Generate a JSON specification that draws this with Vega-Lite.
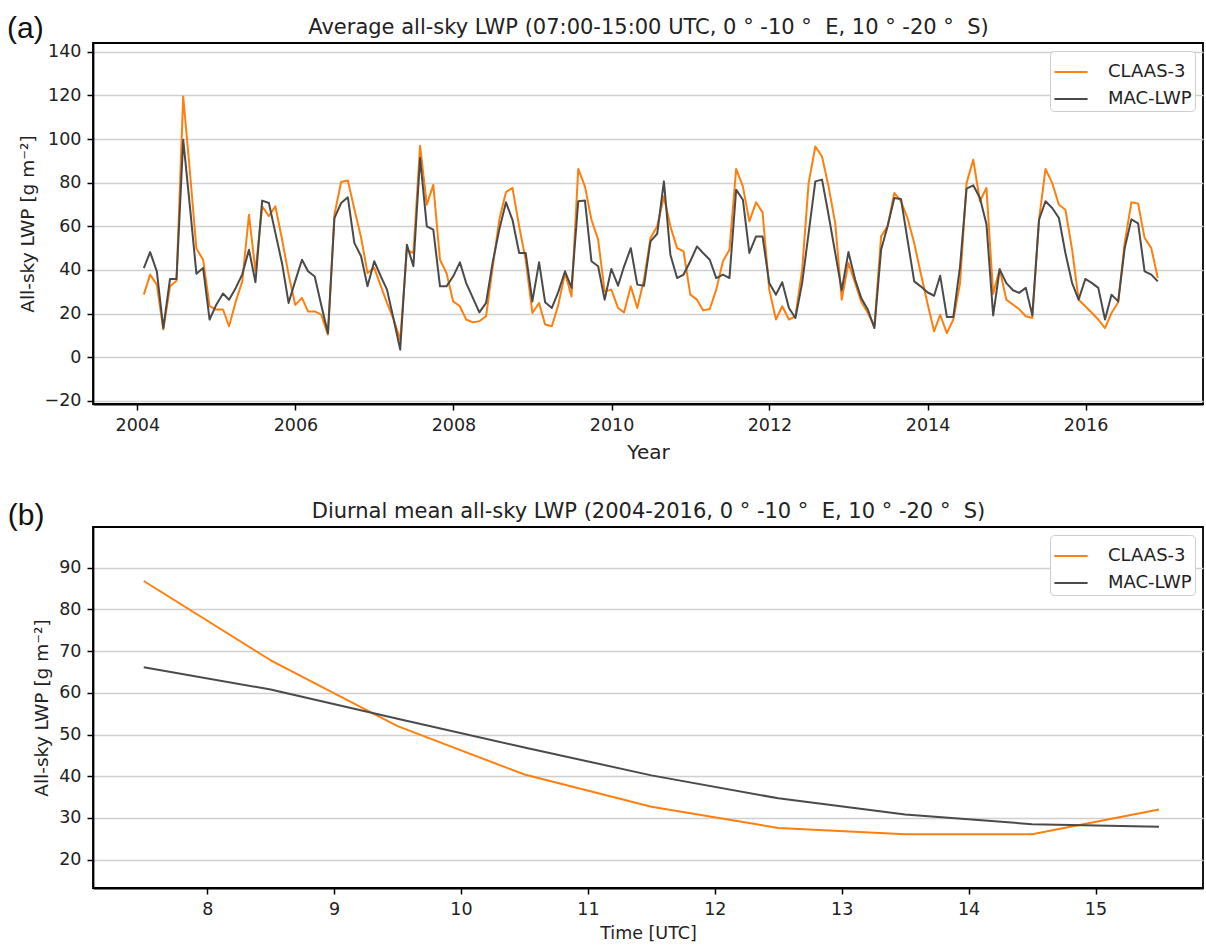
{
  "$schema": "https://vega.github.io/schema/vega-lite/v6.json",
  "background": "white",
  "padding": {"left": 6, "top": 13, "right": 0, "bottom": 0},
  "autosize": {"type": "pad"},
  "spacing": 35,
  "resolve": {"scale": {"color": "independent"}},
  "config": {
    "font": "DejaVu Sans",
    "view": {"stroke": "#000000", "strokeWidth": 1.8},
    "axis": {
      "labelFont": "DejaVu Sans", "labelFontSize": 17.5, "labelColor": "#222222",
      "titleFont": "DejaVu Sans", "titleFontWeight": "normal", "titleColor": "#222222",
      "tickColor": "#000000", "tickWidth": 1.5, "tickSize": 6, "labelPadding": 6,
      "domainColor": "#000000", "domainWidth": 1.8,
      "gridColor": "#d0d0d0", "gridWidth": 1.6
    },
    "axisX": {"grid": false},
    "axisY": {"grid": true},
    "legend": {
      "labelFont": "DejaVu Sans", "labelFontSize": 18, "labelColor": "#222222",
      "symbolType": "stroke", "symbolStrokeWidth": 2, "symbolSize": 1100,
      "padding": 3, "strokeColor": "#cccccc", "fillColor": "#ffffff", "cornerRadius": 4,
      "rowPadding": -1, "labelOffset": 19, "orient": "top-right", "offset": 8
    },
    "title": {"font": "Liberation Sans", "fontWeight": "normal", "color": "#111111"}
  },
  "datasets": {
    "monthly": [
      {"date": "2004-01-31", "CLAAS-3": 28.7, "MAC-LWP": 40.9},
      {"date": "2004-02-29", "CLAAS-3": 37.9, "MAC-LWP": 48.2},
      {"date": "2004-03-31", "CLAAS-3": 33.3, "MAC-LWP": 39.4},
      {"date": "2004-04-30", "CLAAS-3": 12.7, "MAC-LWP": 13.4},
      {"date": "2004-05-31", "CLAAS-3": 32.5, "MAC-LWP": 35.9},
      {"date": "2004-06-30", "CLAAS-3": 35.1, "MAC-LWP": 35.9},
      {"date": "2004-07-31", "CLAAS-3": 119.5, "MAC-LWP": 99.7},
      {"date": "2004-08-31", "CLAAS-3": 85, "MAC-LWP": 69},
      {"date": "2004-09-30", "CLAAS-3": 49.8, "MAC-LWP": 38.3},
      {"date": "2004-10-31", "CLAAS-3": 44.7, "MAC-LWP": 40.9},
      {"date": "2004-11-30", "CLAAS-3": 23.4, "MAC-LWP": 17.3},
      {"date": "2004-12-31", "CLAAS-3": 21.9, "MAC-LWP": 24.1},
      {"date": "2005-01-31", "CLAAS-3": 21.9, "MAC-LWP": 29.2},
      {"date": "2005-02-28", "CLAAS-3": 14.2, "MAC-LWP": 26.4},
      {"date": "2005-03-31", "CLAAS-3": 25.6, "MAC-LWP": 31.8},
      {"date": "2005-04-30", "CLAAS-3": 34.8, "MAC-LWP": 38},
      {"date": "2005-05-31", "CLAAS-3": 65.3, "MAC-LWP": 49.3},
      {"date": "2005-06-30", "CLAAS-3": 39.4, "MAC-LWP": 34.4},
      {"date": "2005-07-31", "CLAAS-3": 69.2, "MAC-LWP": 71.8},
      {"date": "2005-08-31", "CLAAS-3": 64.6, "MAC-LWP": 70.7},
      {"date": "2005-09-30", "CLAAS-3": 69.2, "MAC-LWP": 57},
      {"date": "2005-10-31", "CLAAS-3": 54, "MAC-LWP": 43},
      {"date": "2005-11-30", "CLAAS-3": 38, "MAC-LWP": 24.9},
      {"date": "2005-12-31", "CLAAS-3": 24, "MAC-LWP": 35},
      {"date": "2006-01-31", "CLAAS-3": 27.2, "MAC-LWP": 44.7},
      {"date": "2006-02-28", "CLAAS-3": 21, "MAC-LWP": 39.4},
      {"date": "2006-03-31", "CLAAS-3": 21, "MAC-LWP": 37},
      {"date": "2006-04-30", "CLAAS-3": 19.5, "MAC-LWP": 24},
      {"date": "2006-05-31", "CLAAS-3": 10.4, "MAC-LWP": 11},
      {"date": "2006-06-30", "CLAAS-3": 65.3, "MAC-LWP": 63.8},
      {"date": "2006-07-31", "CLAAS-3": 80.3, "MAC-LWP": 70.7},
      {"date": "2006-08-31", "CLAAS-3": 81, "MAC-LWP": 73.3},
      {"date": "2006-09-30", "CLAAS-3": 68, "MAC-LWP": 52.4},
      {"date": "2006-10-31", "CLAAS-3": 55, "MAC-LWP": 46.3},
      {"date": "2006-11-30", "CLAAS-3": 38.6, "MAC-LWP": 32.5},
      {"date": "2006-12-31", "CLAAS-3": 41, "MAC-LWP": 44},
      {"date": "2007-01-31", "CLAAS-3": 32.5, "MAC-LWP": 37},
      {"date": "2007-02-28", "CLAAS-3": 24.9, "MAC-LWP": 31},
      {"date": "2007-03-31", "CLAAS-3": 17.3, "MAC-LWP": 17.3},
      {"date": "2007-04-30", "CLAAS-3": 8, "MAC-LWP": 3.5},
      {"date": "2007-05-31", "CLAAS-3": 49, "MAC-LWP": 51.6},
      {"date": "2007-06-30", "CLAAS-3": 47.8, "MAC-LWP": 41.7},
      {"date": "2007-07-31", "CLAAS-3": 96.9, "MAC-LWP": 91.3},
      {"date": "2007-08-31", "CLAAS-3": 69.9, "MAC-LWP": 60},
      {"date": "2007-09-30", "CLAAS-3": 79, "MAC-LWP": 58.5},
      {"date": "2007-10-31", "CLAAS-3": 44.7, "MAC-LWP": 32.5},
      {"date": "2007-11-30", "CLAAS-3": 38.6, "MAC-LWP": 32.5},
      {"date": "2007-12-31", "CLAAS-3": 25.6, "MAC-LWP": 37.1},
      {"date": "2008-01-31", "CLAAS-3": 23.4, "MAC-LWP": 43.5},
      {"date": "2008-02-29", "CLAAS-3": 17.3, "MAC-LWP": 34},
      {"date": "2008-03-31", "CLAAS-3": 16, "MAC-LWP": 27.2},
      {"date": "2008-04-30", "CLAAS-3": 16.5, "MAC-LWP": 20.6},
      {"date": "2008-05-31", "CLAAS-3": 18.8, "MAC-LWP": 24.9},
      {"date": "2008-06-30", "CLAAS-3": 41, "MAC-LWP": 43.2},
      {"date": "2008-07-31", "CLAAS-3": 63, "MAC-LWP": 58.5},
      {"date": "2008-08-31", "CLAAS-3": 75.7, "MAC-LWP": 71},
      {"date": "2008-09-30", "CLAAS-3": 77.6, "MAC-LWP": 63},
      {"date": "2008-10-31", "CLAAS-3": 60, "MAC-LWP": 47.8},
      {"date": "2008-11-30", "CLAAS-3": 44.7, "MAC-LWP": 47.8},
      {"date": "2008-12-31", "CLAAS-3": 20.3, "MAC-LWP": 25.6},
      {"date": "2009-01-31", "CLAAS-3": 24.9, "MAC-LWP": 43.5},
      {"date": "2009-02-28", "CLAAS-3": 15, "MAC-LWP": 25.2},
      {"date": "2009-03-31", "CLAAS-3": 14.2, "MAC-LWP": 22.6},
      {"date": "2009-04-30", "CLAAS-3": 24, "MAC-LWP": 30},
      {"date": "2009-05-31", "CLAAS-3": 38.6, "MAC-LWP": 39.4},
      {"date": "2009-06-30", "CLAAS-3": 27.9, "MAC-LWP": 31.8},
      {"date": "2009-07-31", "CLAAS-3": 86.3, "MAC-LWP": 71.5},
      {"date": "2009-08-31", "CLAAS-3": 78.3, "MAC-LWP": 71.8},
      {"date": "2009-09-30", "CLAAS-3": 63, "MAC-LWP": 44},
      {"date": "2009-10-31", "CLAAS-3": 53.9, "MAC-LWP": 41.7},
      {"date": "2009-11-30", "CLAAS-3": 30.2, "MAC-LWP": 26.4},
      {"date": "2009-12-31", "CLAAS-3": 31, "MAC-LWP": 40.5},
      {"date": "2010-01-31", "CLAAS-3": 22.6, "MAC-LWP": 32.8},
      {"date": "2010-02-28", "CLAAS-3": 20.6, "MAC-LWP": 41.7},
      {"date": "2010-03-31", "CLAAS-3": 32.5, "MAC-LWP": 50},
      {"date": "2010-04-30", "CLAAS-3": 22.6, "MAC-LWP": 33.3},
      {"date": "2010-05-31", "CLAAS-3": 35.6, "MAC-LWP": 32.8},
      {"date": "2010-06-30", "CLAAS-3": 54.7, "MAC-LWP": 53.1},
      {"date": "2010-07-31", "CLAAS-3": 60, "MAC-LWP": 56.6},
      {"date": "2010-08-31", "CLAAS-3": 73.7, "MAC-LWP": 80.6},
      {"date": "2010-09-30", "CLAAS-3": 60, "MAC-LWP": 47},
      {"date": "2010-10-31", "CLAAS-3": 50, "MAC-LWP": 36.3},
      {"date": "2010-11-30", "CLAAS-3": 48.5, "MAC-LWP": 37.9},
      {"date": "2010-12-31", "CLAAS-3": 28.7, "MAC-LWP": 44},
      {"date": "2011-01-31", "CLAAS-3": 26.4, "MAC-LWP": 50.8},
      {"date": "2011-02-28", "CLAAS-3": 21.5, "MAC-LWP": 47.8},
      {"date": "2011-03-31", "CLAAS-3": 22.1, "MAC-LWP": 44.7},
      {"date": "2011-04-30", "CLAAS-3": 31, "MAC-LWP": 36.3},
      {"date": "2011-05-31", "CLAAS-3": 44, "MAC-LWP": 37.9},
      {"date": "2011-06-30", "CLAAS-3": 49.3, "MAC-LWP": 36.3},
      {"date": "2011-07-31", "CLAAS-3": 86.3, "MAC-LWP": 76.8},
      {"date": "2011-08-31", "CLAAS-3": 78.3, "MAC-LWP": 72.2},
      {"date": "2011-09-30", "CLAAS-3": 62.3, "MAC-LWP": 47.8},
      {"date": "2011-10-31", "CLAAS-3": 71, "MAC-LWP": 55.4},
      {"date": "2011-11-30", "CLAAS-3": 66.4, "MAC-LWP": 55.4},
      {"date": "2011-12-31", "CLAAS-3": 31, "MAC-LWP": 34},
      {"date": "2012-01-31", "CLAAS-3": 17.3, "MAC-LWP": 28.7},
      {"date": "2012-02-29", "CLAAS-3": 23.4, "MAC-LWP": 34.4},
      {"date": "2012-03-31", "CLAAS-3": 17.3, "MAC-LWP": 22.6},
      {"date": "2012-04-30", "CLAAS-3": 18.8, "MAC-LWP": 18},
      {"date": "2012-05-31", "CLAAS-3": 40, "MAC-LWP": 34},
      {"date": "2012-06-30", "CLAAS-3": 79.8, "MAC-LWP": 56.9},
      {"date": "2012-07-31", "CLAAS-3": 96.6, "MAC-LWP": 80.6},
      {"date": "2012-08-31", "CLAAS-3": 92, "MAC-LWP": 81.4},
      {"date": "2012-09-30", "CLAAS-3": 78.3, "MAC-LWP": 65.3},
      {"date": "2012-10-31", "CLAAS-3": 61.5, "MAC-LWP": 47.8},
      {"date": "2012-11-30", "CLAAS-3": 26.4, "MAC-LWP": 30.7},
      {"date": "2012-12-31", "CLAAS-3": 43.2, "MAC-LWP": 48.2},
      {"date": "2013-01-31", "CLAAS-3": 34, "MAC-LWP": 35.6},
      {"date": "2013-02-28", "CLAAS-3": 25.6, "MAC-LWP": 27.2},
      {"date": "2013-03-31", "CLAAS-3": 20.3, "MAC-LWP": 21.8},
      {"date": "2013-04-30", "CLAAS-3": 14.2, "MAC-LWP": 13.4},
      {"date": "2013-05-31", "CLAAS-3": 55.4, "MAC-LWP": 49.3},
      {"date": "2013-06-30", "CLAAS-3": 60, "MAC-LWP": 60},
      {"date": "2013-07-31", "CLAAS-3": 75.3, "MAC-LWP": 73},
      {"date": "2013-08-31", "CLAAS-3": 71.5, "MAC-LWP": 72.5},
      {"date": "2013-09-30", "CLAAS-3": 63.8, "MAC-LWP": 53.9},
      {"date": "2013-10-31", "CLAAS-3": 52.4, "MAC-LWP": 34.8},
      {"date": "2013-11-30", "CLAAS-3": 38.6, "MAC-LWP": 32.5},
      {"date": "2013-12-31", "CLAAS-3": 24.9, "MAC-LWP": 29.8},
      {"date": "2014-01-31", "CLAAS-3": 11.9, "MAC-LWP": 28.2},
      {"date": "2014-02-28", "CLAAS-3": 19.5, "MAC-LWP": 37.4},
      {"date": "2014-03-31", "CLAAS-3": 11.1, "MAC-LWP": 18.5},
      {"date": "2014-04-30", "CLAAS-3": 17.3, "MAC-LWP": 18.5},
      {"date": "2014-05-31", "CLAAS-3": 34, "MAC-LWP": 41.7},
      {"date": "2014-06-30", "CLAAS-3": 79.8, "MAC-LWP": 77.3},
      {"date": "2014-07-31", "CLAAS-3": 90.5, "MAC-LWP": 78.8},
      {"date": "2014-08-31", "CLAAS-3": 71.5, "MAC-LWP": 73},
      {"date": "2014-09-30", "CLAAS-3": 77.6, "MAC-LWP": 61},
      {"date": "2014-10-31", "CLAAS-3": 29, "MAC-LWP": 19.2},
      {"date": "2014-11-30", "CLAAS-3": 40.5, "MAC-LWP": 40.3},
      {"date": "2014-12-31", "CLAAS-3": 26.4, "MAC-LWP": 34},
      {"date": "2015-01-31", "CLAAS-3": 24.1, "MAC-LWP": 30.7},
      {"date": "2015-02-28", "CLAAS-3": 22.1, "MAC-LWP": 29.5},
      {"date": "2015-03-31", "CLAAS-3": 18.8, "MAC-LWP": 31.8},
      {"date": "2015-04-30", "CLAAS-3": 18, "MAC-LWP": 19.2},
      {"date": "2015-05-31", "CLAAS-3": 63, "MAC-LWP": 63},
      {"date": "2015-06-30", "CLAAS-3": 86.3, "MAC-LWP": 71.5},
      {"date": "2015-07-31", "CLAAS-3": 79.8, "MAC-LWP": 68.4},
      {"date": "2015-08-31", "CLAAS-3": 69.9, "MAC-LWP": 63.8},
      {"date": "2015-09-30", "CLAAS-3": 67.6, "MAC-LWP": 47.8},
      {"date": "2015-10-31", "CLAAS-3": 49.3, "MAC-LWP": 34},
      {"date": "2015-11-30", "CLAAS-3": 26.4, "MAC-LWP": 26.4},
      {"date": "2015-12-31", "CLAAS-3": 23.4, "MAC-LWP": 35.9},
      {"date": "2016-01-31", "CLAAS-3": 20.3, "MAC-LWP": 34},
      {"date": "2016-02-29", "CLAAS-3": 17.3, "MAC-LWP": 31.8},
      {"date": "2016-03-31", "CLAAS-3": 13.4, "MAC-LWP": 17.3},
      {"date": "2016-04-30", "CLAAS-3": 20.3, "MAC-LWP": 28.7},
      {"date": "2016-05-31", "CLAAS-3": 25.2, "MAC-LWP": 25.6},
      {"date": "2016-06-30", "CLAAS-3": 52.4, "MAC-LWP": 50},
      {"date": "2016-07-31", "CLAAS-3": 71, "MAC-LWP": 63.2},
      {"date": "2016-08-31", "CLAAS-3": 70.4, "MAC-LWP": 61.4},
      {"date": "2016-09-30", "CLAAS-3": 54.7, "MAC-LWP": 39.4},
      {"date": "2016-10-31", "CLAAS-3": 50, "MAC-LWP": 37.9},
      {"date": "2016-11-30", "CLAAS-3": 36.3, "MAC-LWP": 34.8}
    ],
    "diurnal": [
      {"hour": 7.5, "CLAAS-3": 86.8, "MAC-LWP": 66.1},
      {"hour": 8.5, "CLAAS-3": 67.8, "MAC-LWP": 60.8},
      {"hour": 9.5, "CLAAS-3": 52, "MAC-LWP": 53.8},
      {"hour": 10.5, "CLAAS-3": 40.4, "MAC-LWP": 46.9},
      {"hour": 11.5, "CLAAS-3": 32.7, "MAC-LWP": 40.2},
      {"hour": 12.5, "CLAAS-3": 27.6, "MAC-LWP": 34.7},
      {"hour": 13.5, "CLAAS-3": 26.1, "MAC-LWP": 30.8},
      {"hour": 14.5, "CLAAS-3": 26.1, "MAC-LWP": 28.5},
      {"hour": 15.5, "CLAAS-3": 32, "MAC-LWP": 27.9}
    ]
  },
  "vconcat": [
    {
      "data": {"name": "monthly"},
      "transform": [{"fold": ["CLAAS-3", "MAC-LWP"], "as": ["dataset", "lwp"]}],
      "width": 1110,
      "height": 361,
      "title": {"text": "(a)", "anchor": "start", "frame": "bounds", "fontSize": 30, "baseline": "alphabetic", "offset": -19, "dx": -11, "dy": 33},
      "layer": [
        {
          "mark": {"type": "line", "strokeWidth": 2, "strokeJoin": "round"},
          "encoding": {
            "x": {
              "field": "date", "type": "temporal",
              "scale": {"domain": [{"year": 2003, "month": 6, "date": 10}, {"year": 2017, "month": 6, "date": 27}]},
              "axis": {"title": "Year", "titleFontSize": 20, "titlePadding": 9, "format": "%Y",
                "values": [{"year": 2004}, {"year": 2006}, {"year": 2008}, {"year": 2010}, {"year": 2012}, {"year": 2014}, {"year": 2016}]}
            },
            "y": {
              "field": "lwp", "type": "quantitative",
              "scale": {"domain": [-21.4, 144], "nice": false, "zero": false},
              "axis": {"title": "All-sky LWP [g m⁻²]", "titleFontSize": 18.5, "titlePadding": 7,
                "values": [-20, 0, 20, 40, 60, 80, 100, 120, 140]}
            },
            "color": {
              "field": "dataset", "type": "nominal",
              "scale": {"domain": ["CLAAS-3", "MAC-LWP"], "range": ["#ff7f0e", "#4a4a4a"]},
              "legend": {"title": null}
            }
          }
        },
        {
          "mark": {"type": "rule", "opacity": 0},
          "encoding": {
            "x": {
              "field": "date", "type": "temporal",
              "axis": {"orient": "top", "labels": false, "ticks": false, "domain": false, "grid": false,
                "title": "Average all-sky LWP (07:00-15:00 UTC, 0\u00a0°\u00a0-10\u00a0°\u00a0\u00a0E, 10\u00a0°\u00a0-20\u00a0°\u00a0\u00a0S)",
                "titleFontSize": 21, "titlePadding": 6}
            }
          }
        }
      ],
      "resolve": {"axis": {"x": "independent"}}
    },
    {
      "data": {"name": "diurnal"},
      "transform": [{"fold": ["CLAAS-3", "MAC-LWP"], "as": ["dataset", "lwp"]}],
      "width": 1110,
      "height": 361,
      "title": {"text": "(b)", "anchor": "start", "frame": "bounds", "fontSize": 30, "baseline": "alphabetic", "offset": -19, "dx": -25, "dy": 36},
      "layer": [
        {
          "mark": {"type": "line", "strokeWidth": 2, "strokeJoin": "round"},
          "encoding": {
            "x": {
              "field": "hour", "type": "quantitative",
              "scale": {"domain": [7.1, 15.847], "nice": false, "zero": false},
              "axis": {"title": "Time [UTC]", "titleFontSize": 17.5, "titlePadding": 7,
                "values": [8, 9, 10, 11, 12, 13, 14, 15]}
            },
            "y": {
              "field": "lwp", "type": "quantitative",
              "scale": {"domain": [13.2, 99.75], "nice": false, "zero": false},
              "axis": {"title": "All-sky LWP [g m⁻²]", "titleFontSize": 18.5, "titlePadding": 7,
                "values": [20, 30, 40, 50, 60, 70, 80, 90]}
            },
            "color": {
              "field": "dataset", "type": "nominal",
              "scale": {"domain": ["CLAAS-3", "MAC-LWP"], "range": ["#ff7f0e", "#4a4a4a"]},
              "legend": {"title": null}
            }
          }
        },
        {
          "mark": {"type": "rule", "opacity": 0},
          "encoding": {
            "x": {
              "field": "hour", "type": "quantitative",
              "axis": {"orient": "top", "labels": false, "ticks": false, "domain": false, "grid": false,
                "title": "Diurnal mean all-sky LWP (2004-2016, 0\u00a0°\u00a0-10\u00a0°\u00a0\u00a0E, 10\u00a0°\u00a0-20\u00a0°\u00a0\u00a0S)",
                "titleFontSize": 21, "titlePadding": 6}
            }
          }
        }
      ],
      "resolve": {"axis": {"x": "independent"}}
    }
  ]
}
